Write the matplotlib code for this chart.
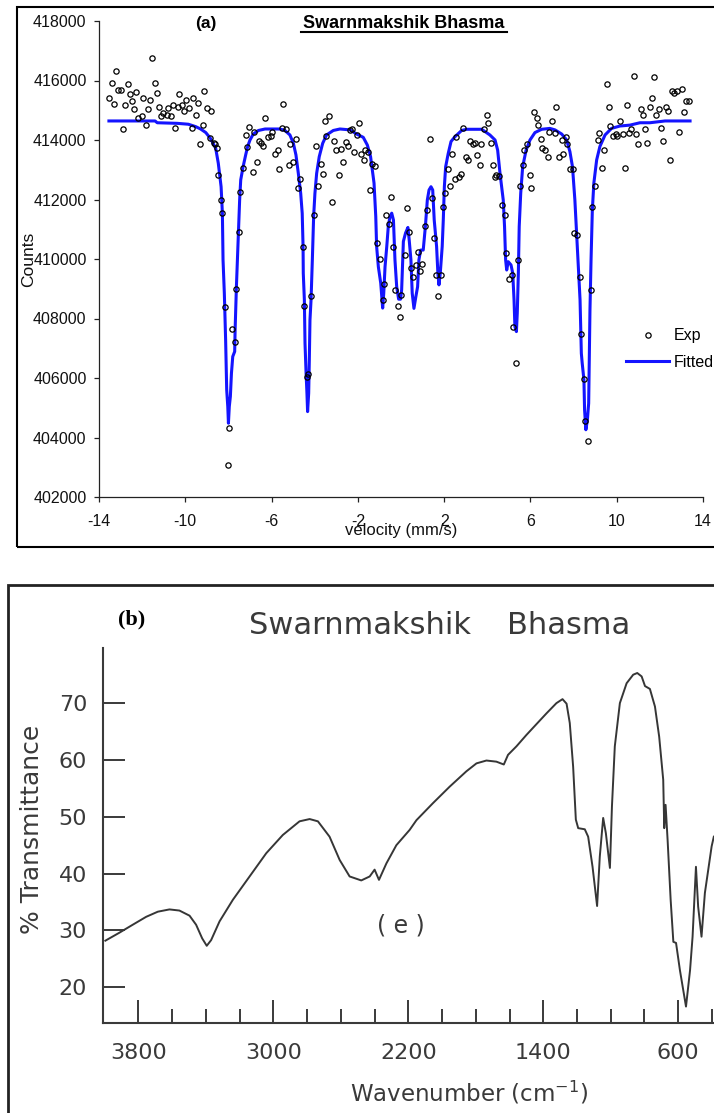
import matplotlib
matplotlib.use('Agg')
import matplotlib.pyplot as plt
from matplotlib.patches import Rectangle
from matplotlib.lines import Line2D

# ---------------- (a) Mossbauer data ----------------
v_exp = [-13.54, -13.38, -13.32, -13.20, -13.12, -13.00, -12.87, -12.81, -12.67, -12.55,
         -12.49, -12.36, -12.28, -12.18, -12.02, -11.96, -11.84, -11.71, -11.65, -11.54,
         -11.40, -11.31, -11.20, -11.13, -11.02, -10.86, -10.80, -10.68, -10.57, -10.48,
         -10.35, -10.29, -10.17, -10.04, -9.95, -9.83, -9.70, -9.64, -9.52, -9.39,
         -9.32, -9.19, -9.12, -8.99, -8.87, -8.79, -8.68, -8.62, -8.54, -8.48,
         -8.36, -8.28, -8.16, -8.03, -7.97, -7.83, -7.71, -7.65, -7.51, -7.45,
         -7.32, -7.18, -7.12, -7.03,
         -6.88, -6.82, -6.69, -6.57, -6.48, -6.38, -6.29, -6.15, -6.01, -5.97,
         -5.84, -5.72, -5.64, -5.53, -5.46, -5.33, -5.21, -5.13, -5.01, -4.87,
         -4.79, -4.68, -4.56, -4.48, -4.36, -4.30, -4.16, -4.03, -3.96, -3.85,
         -3.71, -3.63, -3.51, -3.46, -3.32, -3.20, -3.12, -3.00, -2.87, -2.80,
         -2.67, -2.55, -2.47, -2.36, -2.29, -2.16, -2.04, -1.96, -1.84, -1.72,
         -1.65, -1.51, -1.45, -1.33, -1.19, -1.11, -0.99, -0.85, -0.80, -0.68,
         -0.56, -0.48, -0.35, -0.29, -0.15, -0.05, 0.00,
         0.17, 0.29, 0.37, 0.48, 0.55, 0.68, 0.80, 0.88, 0.99, 1.13,
         1.19, 1.33, 1.45, 1.51, 1.64, 1.71, 1.84, 1.96, 2.02, 2.16,
         2.28, 2.35, 2.49, 2.55, 2.67, 2.80, 2.87, 3.00, 3.12, 3.18,
         3.32, 3.44, 3.52, 3.65, 3.71, 3.85, 3.97, 4.03, 4.16, 4.28,
         4.36, 4.42, 4.54, 4.67, 4.80, 4.87, 4.99, 5.13, 5.19, 5.31,
         5.44, 5.52, 5.64, 5.72, 5.84, 5.96, 6.03, 6.15, 6.29, 6.35,
         6.47, 6.54, 6.67, 6.80, 6.86, 6.98,
         7.12, 7.20, 7.32, 7.45, 7.51, 7.65, 7.71, 7.82, 7.97, 8.02,
         8.16, 8.28, 8.36, 8.48, 8.54, 8.68, 8.81, 8.87, 9.01, 9.15,
         9.19, 9.33, 9.39, 9.53, 9.64, 9.70, 9.84, 9.96, 10.03, 10.17,
         10.29, 10.37, 10.49, 10.55, 10.68, 10.81, 10.88, 11.00, 11.12, 11.20,
         11.32, 11.39, 11.53, 11.65, 11.71, 11.83, 11.96, 12.04, 12.16, 12.30,
         12.36, 12.48, 12.55, 12.67, 12.81, 12.87, 13.01, 13.13, 13.19, 13.33]
c_exp = [415400, 415900, 415210, 416330, 415680, 415680, 414360, 415170, 415870, 415540,
         415300, 415030, 415630, 414730, 414790, 415400, 414500, 415030, 415340, 416760,
         415900, 415580, 415120, 414790, 414900, 414830, 415070, 414790, 415180, 414420,
         415120, 415540, 415180, 414980, 415340, 415070, 414420, 415400, 414840, 415260,
         413860, 414500, 415640, 415070, 414060, 414980, 413910, 413860, 413720, 412830,
         411970, 411560, 408370, 403080, 404310, 407640, 407200, 408980, 410900, 412250,
         413050, 414180, 413770, 414450,
         412920, 414280, 413250, 413970, 413910, 413810, 414750, 414090, 414140, 414280,
         413530, 413670, 413020, 414420, 415220, 414370, 413160, 413860, 413250, 414040,
         412400, 412690, 410400, 408420, 406030, 406140, 408750, 411470, 413810, 412460,
         413200, 412870, 414650, 414140, 414800, 411930, 413960, 413670, 412830, 413710,
         413250, 413920, 413810, 414320, 414380, 413580, 414180, 414560, 413530, 413340,
         413670, 413580, 412310, 413210, 413110, 410540, 410010, 408630, 409170, 411470,
         411180, 412080, 410400, 408950, 408420, 408050, 408780,
         410120, 411710, 410900, 409690, 409410, 409790, 410250, 409600, 409840, 411100,
         411660, 414050, 412040, 410720, 409450, 408760, 409450, 411750, 412210, 413020,
         412460, 413530, 412690, 414090, 412740, 412870, 414420, 413430, 413340, 413960,
         413860, 413910, 413490, 413150, 413860, 414370, 414840, 414560, 413900, 413150,
         412740, 412830, 412780, 411800, 411470, 410200, 409320, 409470, 407700, 406520,
         409970, 412460, 413150, 413670, 413860, 412830, 412400, 414930, 414750, 414510,
         414050, 413720, 413670, 413440, 414280, 414650,
         414250, 415120, 413440, 414000, 413520, 414090, 413860, 413030, 413030, 410870,
         410810, 409410, 407480, 405950, 404550, 403890, 408950, 411750, 412460, 414000,
         414250, 413070, 413670, 415870, 415120, 414470, 414140, 414190, 414140, 414650,
         414190, 413070, 415180, 414250, 414370, 416150, 414190, 413860, 415030, 414840,
         414370, 413910, 415120, 415400, 416110, 414840, 415030, 414420, 413960, 415120,
         414980, 413340, 415640, 415590, 415640, 414280, 415730, 414930, 415310, 415310]

v_fit = [-13.54, -11.40, -11.30, -10.37, -9.86, -9.52, -9.29, -9.05, -8.82, -8.59,
         -8.47, -8.34, -8.28, -8.25, -8.19, -8.13, -8.08, -8.03, -8.00, -7.96,
         -7.91, -7.86, -7.80, -7.71, -7.69, -7.63, -7.55, -7.48, -7.43, -7.32,
         -7.20, -7.11, -7.00, -6.85, -6.61, -6.30, -5.61, -5.38, -5.15, -4.99,
         -4.87, -4.76, -4.65, -4.58, -4.54, -4.53, -4.48, -4.45, -4.40, -4.36,
         -4.33, -4.28, -4.25, -4.22, -4.17, -4.11, -4.05, -3.99, -3.91, -3.79,
         -3.63, -3.45, -3.14, -2.83, -2.36, -2.06, -1.75, -1.56, -1.41, -1.25,
         -1.17, -1.13, -1.05, -0.94, -0.85, -0.80, -0.74, -0.66, -0.59, -0.51,
         -0.43, -0.35, -0.28, -0.20, -0.11, -0.02, 0.03, 0.11, 0.21, 0.32,
         0.38, 0.46, 0.52, 0.60, 0.69, 0.77, 0.83, 0.91, 1.03, 1.13,
         1.22, 1.30, 1.39, 1.47, 1.54, 1.65, 1.71, 1.76, 1.82, 1.91,
         1.96, 2.01, 2.07, 2.19, 2.32, 2.50, 2.81, 3.04, 3.74, 4.12,
         4.36, 4.48, 4.59, 4.74, 4.80, 4.85, 4.90, 4.97, 5.10, 5.18,
         5.24, 5.28, 5.35, 5.39, 5.44, 5.48, 5.55, 5.64, 5.80, 5.98,
         6.21, 6.52, 6.90, 7.14, 7.45, 7.68, 7.83, 7.95, 8.06, 8.14,
         8.22, 8.30, 8.36, 8.40, 8.48, 8.51, 8.57, 8.64, 8.70, 8.73,
         8.76, 8.81, 8.87, 8.94, 9.07, 9.22, 9.46, 9.76, 10.15, 10.61,
         11.08, 11.54, 12.24, 13.40]
c_fit = [414640, 414640, 414580, 414560, 414530, 414450, 414370, 414250, 414040, 413720,
         413220, 412430, 411540, 409970, 408850, 407280, 405600, 405040, 404480, 405040,
         405380, 406160, 406720, 406890, 407620, 409070, 410640, 411990, 412660, 413100,
         413500, 413780, 414000, 414200, 414320, 414370, 414370, 414320, 414170, 413890,
         413500, 412880, 412210, 411540, 410420, 409520, 408630, 407170, 406160, 405490,
         404870, 405490, 406610, 407950, 408630, 409970, 411430, 412210, 412880, 413440,
         413890, 414170, 414320, 414370, 414340, 414200, 414090, 413830, 413440, 412550,
         411430, 410420, 409740, 409190, 408350, 408850, 409740, 410420, 411090, 411430,
         411540, 411310, 409970, 409070, 408650, 408650, 408960, 410590, 410870, 411060,
         410640, 409970, 408850, 408340, 408740, 409070, 409970, 410300, 410300, 411090,
         411980, 412320, 412430, 412320, 411310, 410420, 409520, 409130, 409520, 410420,
         411310, 412430, 413100, 413550, 413950, 414110, 414320, 414360, 414360, 414170,
         414000, 413660, 412880, 411980, 411090, 409970, 409630, 409910, 409800, 409520,
         408630, 407730, 407560, 408180, 409520, 411090, 412210, 413100, 413660, 414000,
         414250, 414360, 414390, 414340, 414200, 414000, 413610, 413100, 411990, 410870,
         409740, 408630, 406830, 406500, 405940, 404930, 404260, 404590, 405150, 406610,
         408290, 409970, 411650, 412550, 413330, 413780, 414170, 414390, 414470, 414500,
         414580, 414580, 414640, 414640]

vel_ticks = [-14, -10, -6, -2, 2, 6, 10, 14]
count_ticks = [402000, 404000, 406000, 408000, 410000, 412000, 414000, 416000, 418000]

# ---------------- (b) FTIR data ----------------
wavenumber = [3996, 3913, 3834, 3754, 3685, 3616, 3557, 3497, 3458, 3422,
              3395, 3369, 3319, 3240, 3141, 3042, 2944, 2845, 2785, 2736,
              2667, 2607, 2548, 2479, 2429, 2400, 2374, 2330, 2271, 2192,
              2152, 2054, 1955, 1856, 1796, 1737, 1678, 1634, 1609, 1559,
              1500, 1450, 1381, 1322, 1286, 1262, 1243, 1223, 1207, 1193,
              1154, 1134, 1108, 1081, 1065, 1045, 1029, 1005, 993, 976,
              946, 906, 867, 843, 817, 797, 768, 738, 713, 689,
              683, 675, 663, 645, 629, 613, 590, 554, 530, 515,
              495, 482, 462, 442, 422, 402, 389]
transmittance = [28.2, 29.6, 31.0, 32.4, 33.3, 33.7, 33.5, 32.6, 31.0, 28.6,
                 27.3, 28.3, 31.6, 35.4, 39.5, 43.6, 46.8, 49.2, 49.6, 49.2,
                 46.5, 42.4, 39.5, 38.8, 39.5, 40.7, 38.9, 41.8, 45.0, 47.7,
                 49.4, 52.4, 55.3, 58.0, 59.4, 59.9, 59.7, 59.2, 60.9, 62.4,
                 64.4, 66.0, 68.2, 70.0, 70.7, 69.9, 66.5, 58.8, 49.5, 48.0,
                 47.8, 46.5, 41.2, 34.3, 43.0, 49.8, 47.1, 41.0, 51.8, 62.4,
                 70.0, 73.5, 75.0, 75.3, 74.7, 73.0, 72.5, 69.4, 64.1, 56.5,
                 48.0, 52.1, 45.9, 35.4, 28.0, 27.8, 23.0, 16.6, 23.0, 28.9,
                 41.2, 34.2, 28.9, 36.6, 40.7, 44.8, 46.5]
wn_major = [3800, 3000, 2200, 1400, 600]
wn_minor = [3600, 3400, 3200, 2800, 2600, 2400, 2000, 1800, 1600, 1200, 1000, 800, 400]
t_ticks = [20, 30, 40, 50, 60, 70]

# ---------------- figure ----------------
W, H = 714, 1113
fig = plt.figure(figsize=(W / 100, H / 100), dpi=100)


def fx(px):
    return px / W


def fy(py):
    return 1 - py / H


SANS = ['Liberation Sans', 'DejaVu Sans']
GRAY = '#3a3a3a'

# panel frames
fig.add_artist(Rectangle((fx(17), fy(547)), fx(720) - fx(17), fy(7) - fy(547),
                         transform=fig.transFigure, fill=False, lw=1.5, ec='black'))
fig.add_artist(Rectangle((fx(8), fy(1130)), fx(730) - fx(8), fy(584.5) - fy(1130),
                         transform=fig.transFigure, fill=False, lw=2.0, ec='#222222'))

# ---- panel (a)
ax1 = fig.add_axes([fx(99), fy(497), (703 - 99) / W, (497 - 21) / H])
fit_line, = ax1.plot(v_fit, c_fit, color='#1414ff', lw=2.2, zorder=2, clip_on=False)
exp_pts, = ax1.plot(v_exp, c_exp, ls='none', marker='o', ms=3.8, mfc='none',
                    mec='black', mew=0.9, zorder=3, clip_on=False)
ax1.set_xlim(-14, 14)
ax1.set_ylim(402000, 418000)
ax1.set_xticks(vel_ticks)
ax1.set_yticks(count_ticks)
ax1.set_xticklabels([str(t) for t in vel_ticks])
ax1.set_yticklabels([str(t) for t in count_ticks])
for s in ['top', 'right']:
    ax1.spines[s].set_visible(False)
for s in ['left', 'bottom']:
    ax1.spines[s].set_linewidth(0.9)
    ax1.spines[s].set_color('#222222')
ax1.tick_params(axis='both', direction='out', length=3.5, width=0.9, color='#222222',
                labelsize=11.5, labelcolor='#111111')
ax1.tick_params(axis='x', pad=8.5)
ax1.tick_params(axis='y', pad=5.5)
for lab in ax1.get_xticklabels() + ax1.get_yticklabels():
    lab.set_family(SANS)
ax1.set_xlabel('velocity (mm/s)', fontsize=12, family=SANS, va='center', color='#111111')
ax1.xaxis.set_label_coords(0.5, (497 - 531) / 476)
ax1.set_ylabel('Counts', fontsize=12.5, family=SANS, va='center', color='#111111')
ax1.yaxis.set_label_coords((29 - 99) / 604, 0.5)

leg = ax1.legend([exp_pts, fit_line], ['Exp', 'Fitted'], loc='center left',
                 bbox_to_anchor=(fx(626), fy(349)), bbox_transform=fig.transFigure,
                 frameon=False, borderpad=0, borderaxespad=0, handlelength=2.7,
                 handletextpad=0.3, labelspacing=0.7, prop={'family': SANS, 'size': 11.5})

fig.text(fx(206), fy(28.3), '(a)', ha='center', va='baseline', fontsize=12.5,
         fontweight='bold', family=SANS)
fig.text(fx(404), fy(28.3), 'Swarnmakshik Bhasma', ha='center', va='baseline',
         fontsize=13, fontweight='bold', family=SANS)
fig.add_artist(Line2D([fx(301), fx(507)], [fy(31.5), fy(31.5)], transform=fig.transFigure,
                      color='black', lw=1.5))

# ---- panel (b)
ax2 = fig.add_axes([fx(103), fy(1023.3), 1 - fx(103), (1023.3 - 648) / H])
ax2.plot(wavenumber, transmittance, color='#363636', lw=1.4)
ax2.set_xlim(4010, 388)
ax2.set_ylim(13.66, 79.7)
ax2.set_xticks(wn_major)
ax2.set_xticks(wn_minor, minor=True)
ax2.set_yticks(t_ticks)
for s in ['top', 'right']:
    ax2.spines[s].set_visible(False)
for s in ['left', 'bottom']:
    ax2.spines[s].set_linewidth(1.5)
    ax2.spines[s].set_color(GRAY)
ax2.tick_params(axis='x', which='major', direction='in', length=16.5, width=1.4,
                color=GRAY, labelsize=16, labelcolor=GRAY, pad=14)
ax2.tick_params(axis='x', which='minor', direction='in', length=10, width=1.4, color=GRAY)
ax2.tick_params(axis='y', which='major', direction='in', length=15.6, width=1.4,
                color=GRAY, labelsize=16, labelcolor=GRAY, pad=11.5)
for lab in ax2.get_xticklabels() + ax2.get_yticklabels():
    lab.set_family('DejaVu Sans')

fig.text(fx(360), fy(634), 'Swarnmakshik', ha='center', va='baseline', fontsize=22,
         color=GRAY, family='DejaVu Sans')
fig.text(fx(568.5), fy(634), 'Bhasma', ha='center', va='baseline', fontsize=22,
         color=GRAY, family='DejaVu Sans')
fig.text(fx(132), fy(624), '(b)', ha='center', va='baseline', fontsize=16,
         fontweight='bold', family=['Liberation Serif', 'DejaVu Serif'], color='black')
fig.text(fx(401), fy(932), '( e )', ha='center', va='baseline', fontsize=17,
         color=GRAY, family='DejaVu Sans')
fig.text(fx(469), fy(1101), 'Wavenumber (cm$^{-1}$)', ha='center', va='baseline',
         fontsize=16.5, color=GRAY, family='DejaVu Sans')
fig.text(fx(32), fy(829), '% Transmittance', ha='center', va='center', rotation=90,
         fontsize=18, color=GRAY, family='DejaVu Sans')

fig.savefig('out.png', dpi=100)
